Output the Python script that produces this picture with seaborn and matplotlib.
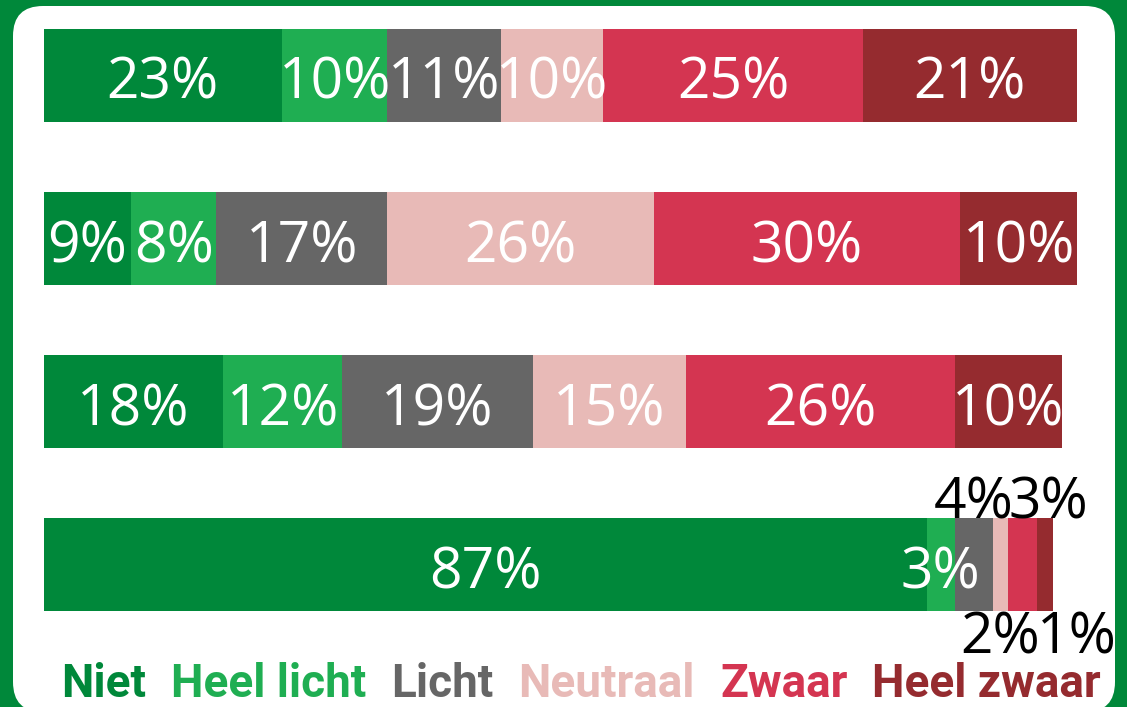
import matplotlib.pyplot as plt
import matplotlib.patches as mpatches
import matplotlib.transforms as mtransforms
import seaborn as sns

# answer categories and their colours
categories = ["Niet", "Heel licht", "Licht", "Neutraal", "Zwaar", "Heel zwaar"]
colors = ["#00883a", "#1fae52", "#666666", "#e8bab7", "#d43551", "#952b2f"]

# printed percentages per bar (top to bottom)
pct_1 = [23, 10, 11, 10, 25, 21]
pct_2 = [9, 8, 17, 26, 30, 10]
pct_3 = [18, 12, 19, 15, 26, 10]
pct_4 = [87, 3, 4, 2, 3, 1]

# segment lengths as drawn in the picture (in %)
width_1 = [23.1, 10.2, 11.0, 9.9, 25.1, 20.7]
width_2 = [8.5, 8.2, 16.6, 25.8, 29.6, 11.4]
width_3 = [17.4, 11.5, 18.5, 14.8, 26.0, 10.4]
width_4 = [85.5, 2.7, 3.7, 1.5, 2.8, 1.5]

pcts = [pct_1, pct_2, pct_3, pct_4]
widths = [width_1, width_2, width_3, width_4]

sns.set_style("white")
plt.rcParams["font.family"] = ["Open Sans", "DejaVu Sans"]

W, H = 1127, 707
fig = plt.figure(figsize=(W / 100, H / 100), dpi=100, facecolor="#00883a")

# white rounded card on the green background
card = mpatches.FancyBboxPatch((13, -5), 1102, 706,
                               boxstyle="round,pad=0,rounding_size=30",
                               transform=mtransforms.IdentityTransform(),
                               fc="white", ec="none", zorder=0)
fig.add_artist(card)

ax = fig.add_axes([43.5 / W, 0, 1033 / W, 1])
ax.set_xlim(0, 100)
ax.set_ylim(3.87, -0.46)
ax.axis("off")
ax.patch.set_alpha(0)

bar_h = 0.57
fs = 41
# small segments in the last bar get their label outside
outside = {2: ("above", "center"), 4: ("above", "left"),
           3: ("below", "center"), 5: ("below", "left")}

for row, (vals, labs) in enumerate(zip(widths, pcts)):
    left = 0
    for k, (v, p) in enumerate(zip(vals, labs)):
        ax.barh(row, v, left=left, height=bar_h, color=colors[k], linewidth=0)
        if row == 3 and k in outside:
            side, ha = outside[k]
            x = left + v / 2 if ha == "center" else left
            y = row - bar_h / 2 if side == "above" else row + bar_h / 2 + 0.255
            ax.text(x, y, f"{p}%", ha=ha, va="baseline", color="black",
                    fontsize=fs)
        else:
            ax.text(left + v / 2, row + 0.145, f"{p}%", ha="center",
                    va="baseline", color="white", fontsize=fs)
        left += v

# legend: coloured category names in one row
renderer = fig.canvas.get_renderer()
x = 61
for name, c in zip(categories, colors):
    t = fig.text(x / W, (H - 697) / H, name, color=c, fontsize=33,
                 fontweight="bold", family=["Roboto", "DejaVu Sans"],
                 ha="left", va="baseline")
    bb = t.get_window_extent(renderer)
    x = bb.x1 + 25

fig.savefig("out.png", dpi=100, facecolor=fig.get_facecolor())
